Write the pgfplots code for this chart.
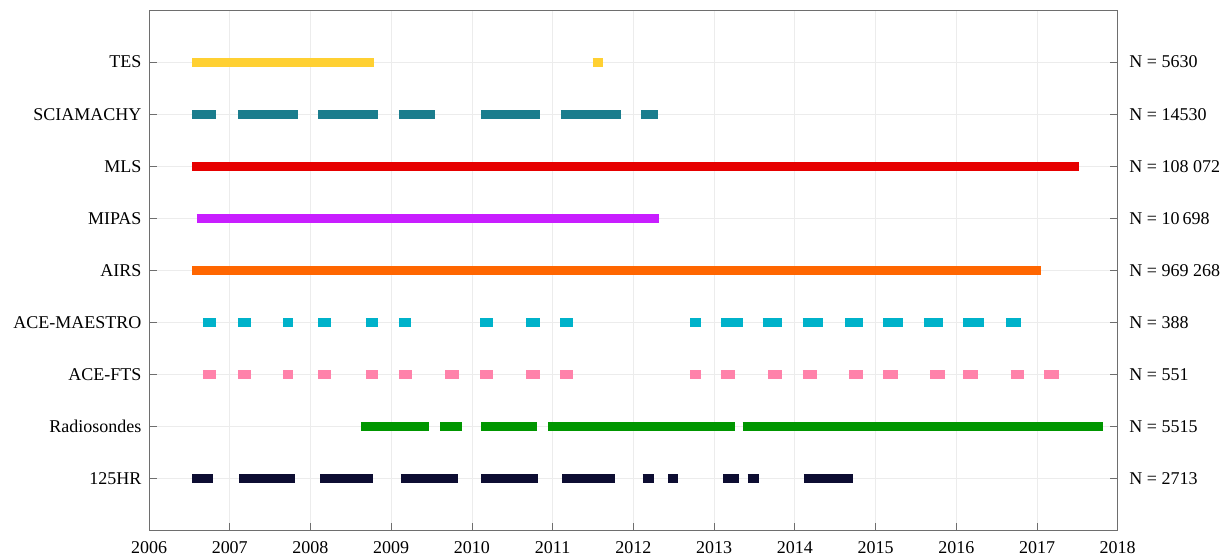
\documentclass[border=0pt]{standalone}
\usepackage{pgfplots}
\pgfplotsset{compat=1.18}
\usepackage{fontspec}
\setmainfont{Liberation Serif}
\definecolor{ctes}{RGB}{255,208,50}
\definecolor{csci}{RGB}{27,125,141}
\definecolor{cmls}{RGB}{230,0,0}
\definecolor{cmip}{RGB}{200,30,255}
\definecolor{cair}{RGB}{255,102,0}
\definecolor{cmae}{RGB}{0,178,202}
\definecolor{cfts}{RGB}{255,130,170}
\definecolor{crad}{RGB}{0,150,0}
\definecolor{chr}{RGB}{13,13,50}
\definecolor{axgray}{RGB}{110,110,110}
\begin{document}
\fontsize{13.5}{15}\selectfont
\begin{tikzpicture}
\pgfplotsset{
  common/.style={
    width=726.75pt, height=390.75pt, scale only axis,
    xmin=2006, xmax=2018, ymin=0, ymax=10,
    ytick={1,...,9},
    tick align=inside,
    major tick length=6pt,
    axis line style={axgray, line width=0.6pt},
    tick style={axgray, line width=0.6pt},
    tick label style={font=\fontsize{13.5}{15}\selectfont, text=black},
  },
}
\begin{axis}[common, name=main,
  xtick={2006,...,2018},
  xticklabels={2006,2007,2008,2009,2010,2011,2012,2013,2014,2015,2016,2017,2018},
  yticklabels={125HR,Radiosondes,ACE-FTS,ACE-MAESTRO,AIRS,MIPAS,MLS,SCIAMACHY,TES},
  grid=major,
  major grid style={gray!15, line width=0.6pt},
  ytick pos=left, xtick pos=bottom,
  yticklabel style={xshift=-1pt},
  xticklabel style={yshift=-3pt},
  unbounded coords=jump,
  every axis plot/.append style={line width=6.8pt, line cap=butt},
]
% TES
\addplot[ctes] coordinates {(2006.534,9) (2008.786,9) (nan,9) (2011.495,9) (2011.619,9)};
% SCIAMACHY
\addplot[csci] coordinates {(2006.534,8) (2006.828,8) (nan,8)
 (2007.099,8) (2007.842,8) (nan,8)
 (2008.098,8) (2008.841,8) (nan,8)
 (2009.096,8) (2009.537,8) (nan,8)
 (2010.118,8) (2010.837,8) (nan,8)
 (2011.101,8) (2011.844,8) (nan,8)
 (2012.099,8) (2012.308,8)};
% MLS
\addplot[cmls] coordinates {(2006.534,7) (2017.515,7)};
% MIPAS
\addplot[cmip] coordinates {(2006.593,6) (2012.312,6)};
% AIRS
\addplot[cair] coordinates {(2006.534,5) (2017.043,5)};
% ACE-MAESTRO
\addplot[cmae] coordinates {
 (2006.666,4) (2006.828,4) (nan,4)
 (2007.099,4) (2007.262,4) (nan,4)
 (2007.664,4) (2007.788,4) (nan,4)
 (2008.098,4) (2008.260,4) (nan,4)
 (2008.686,4) (2008.833,4) (nan,4)
 (2009.096,4) (2009.243,4) (nan,4)
 (2010.102,4) (2010.257,4) (nan,4)
 (2010.675,4) (2010.837,4) (nan,4)
 (2011.093,4) (2011.248,4) (nan,4)
 (2012.703,4) (2012.842,4) (nan,4)
 (2013.090,4) (2013.206,4) (nan,4)
 (2013.206,4) (2013.353,4) (nan,4)
 (2013.600,4) (2013.840,4) (nan,4)
 (2014.096,4) (2014.344,4) (nan,4)
 (2014.622,4) (2014.839,4) (nan,4)
 (2015.094,4) (2015.342,4) (nan,4)
 (2015.598,4) (2015.837,4) (nan,4)
 (2016.085,4) (2016.341,4) (nan,4)
 (2016.619,4) (2016.797,4)};
% ACE-FTS
\addplot[cfts] coordinates {
 (2006.666,3) (2006.828,3) (nan,3)
 (2007.099,3) (2007.262,3) (nan,3)
 (2007.664,3) (2007.788,3) (nan,3)
 (2008.098,3) (2008.260,3) (nan,3)
 (2008.686,3) (2008.841,3) (nan,3)
 (2009.096,3) (2009.259,3) (nan,3)
 (2009.669,3) (2009.839,3) (nan,3)
 (2010.102,3) (2010.257,3) (nan,3)
 (2010.675,3) (2010.837,3) (nan,3)
 (2011.093,3) (2011.255,3) (nan,3)
 (2012.703,3) (2012.842,3) (nan,3)
 (2013.090,3) (2013.260,3) (nan,3)
 (2013.670,3) (2013.840,3) (nan,3)
 (2014.096,3) (2014.274,3) (nan,3)
 (2014.676,3) (2014.839,3) (nan,3)
 (2015.094,3) (2015.272,3) (nan,3)
 (2015.675,3) (2015.861,3) (nan,3)
 (2016.085,3) (2016.263,3) (nan,3)
 (2016.673,3) (2016.843,3) (nan,3)
 (2017.091,3) (2017.277,3)};
% Radiosondes
\addplot[crad] coordinates {
 (2008.624,2) (2009.467,2) (nan,2)
 (2009.607,2) (2009.878,2) (nan,2)
 (2010.118,2) (2010.807,2) (nan,2)
 (2010.946,2) (2013.252,2) (nan,2)
 (2013.353,2) (2014.460,2) (nan,2)
 (2014.460,2) (2017.811,2)};
% 125HR
\addplot[chr] coordinates {
 (2006.534,1) (2006.789,1) (nan,1)
 (2007.115,1) (2007.803,1) (nan,1)
 (2008.121,1) (2008.771,1) (nan,1)
 (2009.119,1) (2009.824,1) (nan,1)
 (2010.118,1) (2010.822,1) (nan,1)
 (2011.116,1) (2011.573,1) (nan,1)
 (2011.573,1) (2011.766,1) (nan,1)
 (2012.115,1) (2012.254,1) (nan,1)
 (2012.432,1) (2012.556,1) (nan,1)
 (2013.113,1) (2013.307,1) (nan,1)
 (2013.415,1) (2013.554,1) (nan,1)
 (2014.111,1) (2014.723,1)};
\end{axis}
\begin{axis}[common,
  axis x line=none,
  axis y line*=right,
  yticklabels={N = 2713,N = 5515,N = 551,N = 388,N = 969 268,N = 10\,698,N = 108 072,N = 14530,N = 5630},
  yticklabel style={xshift=4pt, anchor=west},
]
\end{axis}
\pgfresetboundingbox
\path ([shift={(-111.8pt,-19.5pt)}]main.south west) rectangle ([shift={(84.9pt,7.5pt)}]main.north east);
\end{tikzpicture}
\end{document}
